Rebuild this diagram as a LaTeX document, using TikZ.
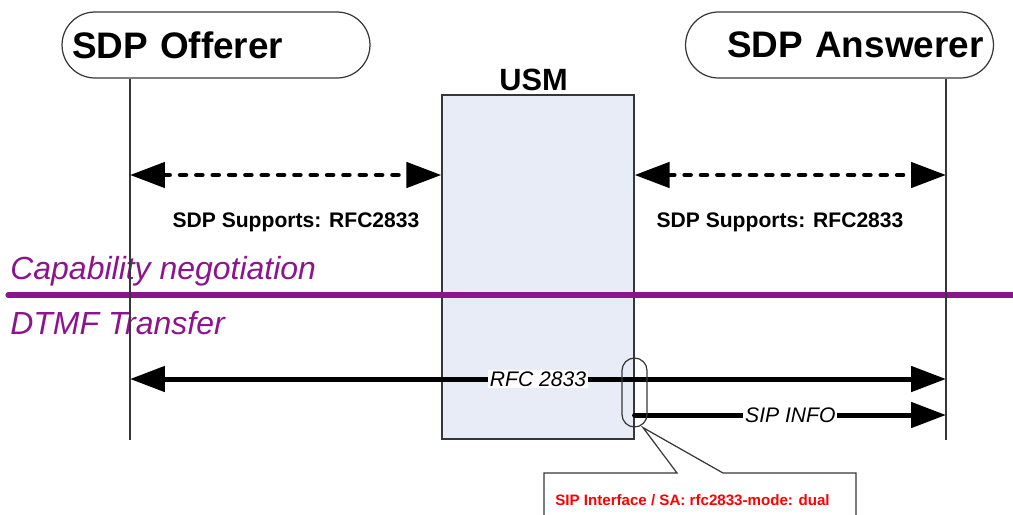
\documentclass[tikz,border=0pt]{standalone}
\usepackage{fontspec}
\setmainfont{Liberation Sans}
\usepackage{xcolor}
\usepackage{tikz}
\usetikzlibrary{arrows.meta, positioning, calc}
\definecolor{usmFill}{RGB}{232, 236, 246}
\definecolor{phaseC}{RGB}{140, 20, 140}
\definecolor{edgeC}{RGB}{55, 55, 55}

\begin{document}
\begin{tikzpicture}[
    x=0.02cm, y=-0.02cm,
    partybox/.style={rectangle, rounded corners=0.66cm, draw=edgeC, line width=0.7pt, minimum width=6.16cm, minimum height=1.32cm, text width=5.76cm, inner xsep=0.2cm, font=\fontsize{21}{24}\selectfont\bfseries},
    usmbox/.style={rectangle, draw=edgeC, line width=0.7pt, fill=usmFill, minimum width=3.84cm, minimum height=6.88cm},
    lifeline/.style={draw=edgeC, line width=0.7pt},
    dasharrow/.style={{Triangle[length=0.7cm, width=0.5cm]}-{Triangle[length=0.7cm, width=0.5cm]}, line width=2.7pt, line cap=round, dash pattern=on 3.3pt off 6pt},
    msgarrow/.style={{Triangle[length=0.7cm, width=0.5cm]}-{Triangle[length=0.7cm, width=0.5cm]}, line width=2.85pt},
    onewayarrow/.style={-{Triangle[length=0.7cm, width=0.5cm]}, line width=2.85pt, line cap=round},
    msglabel/.style={fill=white, inner sep=1pt, font=\fontsize{12}{14}\selectfont\itshape},
    supportlabel/.style={font=\fontsize{12}{14}\selectfont\bfseries},
    phaselabel/.style={text=phaseC, anchor=base west, inner sep=0pt, font=\fontsize{18.2}{21}\selectfont\itshape},
    phaseline/.style={draw=phaseC, line width=2.9pt, line cap=round}
]
\useasboundingbox (0,0) rectangle (1013,514);

% parties
\node[partybox, align=left] (offerer) at (216,45) {SDP Offerer};
\node[partybox, align=right] (answerer) at (839.5,45) {SDP Answerer};
\node[usmbox] (usm) at (538,267) {};
\node[anchor=base, inner sep=0pt, font=\fontsize{17.5}{20}\selectfont\bfseries] (usmlabel) at (533.5,90) {USM};

% phases
\node[phaselabel] (capneg) at (10,279) {Capability negotiation};
\coordinate (phaseL) at (8,295);
\coordinate (phaseR) at (1013,295);
\draw[phaseline] (phaseL) -- (phaseR);
\node[phaselabel] (dtmf) at (10,334) {DTMF Transfer};

% lifelines
\coordinate (offL) at (130,0);
\coordinate (ansL) at (946,0);
\draw[lifeline] (offerer.south -| offL) -- (offL |- usm.south);
\draw[lifeline] (answerer.south -| ansL) -- (ansL |- usm.south);

% capability negotiation
\coordinate (neg) at (0,175);
\draw[dasharrow] (offL |- neg) -- (usm.west |- neg);
\draw[dasharrow] (usm.east |- neg) -- (ansL |- neg);
\node[supportlabel] (supL) at (296,222) {SDP Supports: RFC2833};
\node[supportlabel] (supR) at (780,222) {SDP Supports: RFC2833};

% dtmf transfer
\coordinate (rtp) at (0,379);
\coordinate (info) at (0,415);
\draw[msgarrow] (offL |- rtp) -- node[msglabel] (rfclabel) {RFC 2833} (ansL |- rtp);
\draw[onewayarrow] (usm.east |- info) -- node[msglabel] (infolabel) {SIP INFO} (ansL |- info);
\node[draw=edgeC, line width=0.7pt, rounded corners=0.25cm, minimum width=0.5cm, minimum height=1.38cm] (iface) at (634.5,392.5) {};

% callout
\coordinate (tip) at ($(iface.south)!0.65!(iface.south east)$);
\draw[draw=edgeC, line width=0.7pt, fill=white] (544,530) -- (544,473) -- (677,473) -- (tip) -- (723,473) -- (856,473) -- (856,530);
\node[anchor=west, text=red, inner sep=0pt, font=\fontsize{8.6}{10}\selectfont\bfseries] (note) at (555,500) {SIP Interface / SA: rfc2833-mode: dual};
\end{tikzpicture}
\end{document}
